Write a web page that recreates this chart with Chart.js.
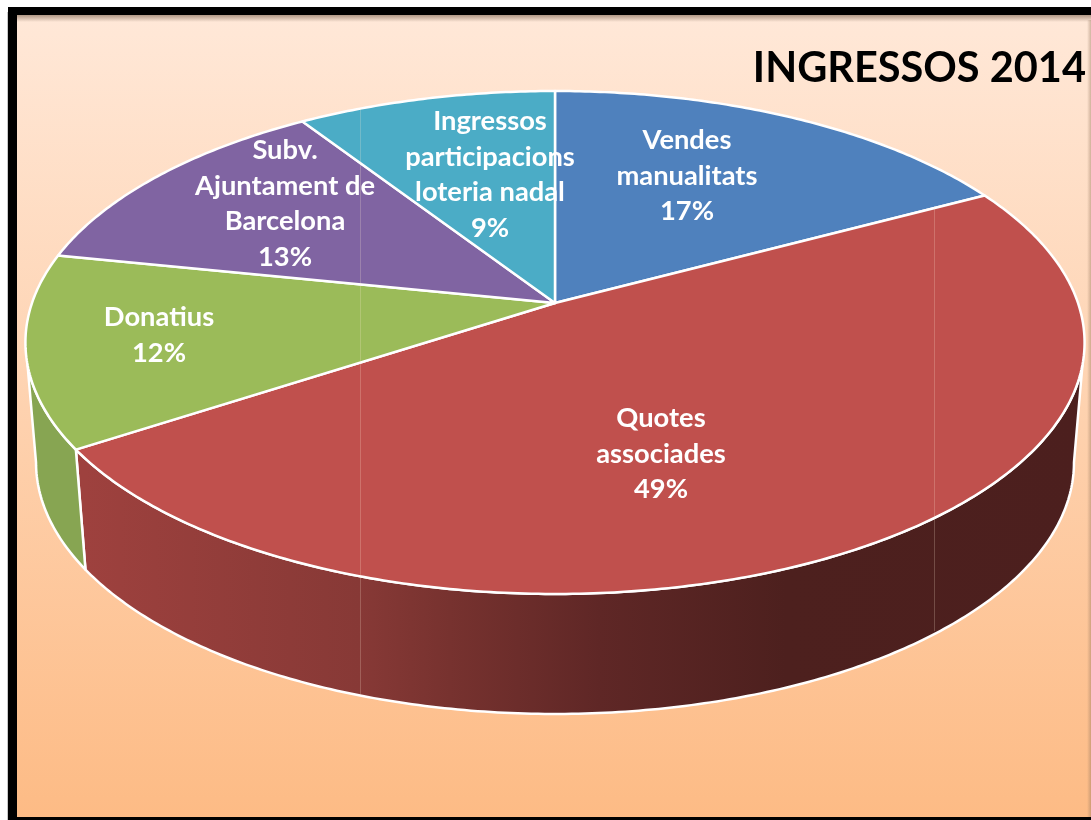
<!DOCTYPE html>
<html>
<head>
<meta charset="utf-8">
<title>Ingressos 2014</title>
<script src="https://cdn.jsdelivr.net/npm/chart.js@4/dist/chart.umd.js"></script>
<style>
  html, body { margin: 0; padding: 0; background: #fff; }
  canvas { display: block; }
</style>
</head>
<body>
<canvas id="pie" width="1091" height="820"></canvas>
<script>
// --- Data ---
const chartTitle = 'INGRESSOS 2014';
const categories = [
  ['Vendes', 'manualitats'],
  ['Quotes', 'associades'],
  ['Donatius'],
  ['Subv.', 'Ajuntament de', 'Barcelona'],
  ['Ingressos', 'participacions', 'loteria nadal']
];
const values = [17.2, 48.6, 12.4, 12.6, 9.2];

// --- Styles ---
const faceColors = ['#4f81bd', '#c0504d', '#9bbb59', '#8064a2', '#4bacc6'];
const labelCenters = [[687, 140.5], [661, 418.5], [159, 317.5], [285, 150.5], [490, 121.5]];
const LINE_H = 35.5;

// --- Perspective of the pie top, fitted on the picture ---
const view = { cx: 555, cy: 303, a: 197.7, c: -0.157, r: 523, depth: 120, shrink: 0.98 };
// where the wall leaves the top rim and where it reaches the lower rim (radians below horizontal)
const WALL_TOP = 0.078 * Math.PI, WALL_LOW = 0.05 * Math.PI;

function project(angle) {
  const u = Math.cos(angle), v = Math.sin(angle);
  const d = 1 + view.c * v;
  return { x: view.cx + view.r * u / d, y: (view.cy + view.a * v) / d };
}

function projectLow(angle) {
  const p = project(angle);
  return { x: view.cx + (p.x - view.cx) * view.shrink, y: p.y + view.depth };
}

function tracePts(ctx, from, to, fn) {
  const steps = Math.max(2, Math.ceil(Math.abs(to - from) * 90));
  for (let i = 0; i <= steps; i++) {
    const p = fn(from + (to - from) * i / steps);
    ctx.lineTo(p.x, p.y);
  }
}

function wallGradient(ctx, index) {
  if (index === 2) return '#87a552';
  const g = ctx.createLinearGradient(85, 0, 1085, 0);
  g.addColorStop(0, '#9e413e');
  g.addColorStop(0.275, '#873936');
  g.addColorStop(0.365, '#77322f');
  g.addColorStop(0.515, '#5f2726');
  g.addColorStop(0.7, '#4d201e');
  g.addColorStop(1, '#4c1f1e');
  return g;
}

// --- Drawing plugin: takes the library's arc angles and draws them in perspective ---
const pie3d = {
  id: 'pie3d',
  beforeDraw(chart) {
    const { ctx, width, height } = chart;
    const bg = ctx.createLinearGradient(0, 15, 0, 817);
    bg.addColorStop(0, '#ffe8d8');
    bg.addColorStop(1, '#fdbb85');
    ctx.save();
    ctx.fillStyle = '#fff';
    ctx.fillRect(0, 0, width, height);
    ctx.fillStyle = bg;
    ctx.fillRect(17, 15, width - 17, height - 15);
    // soft inner shadow under the frame
    const sh = ctx.createLinearGradient(0, 15, 0, 22);
    sh.addColorStop(0, 'rgba(110,85,65,0.55)');
    sh.addColorStop(1, 'rgba(110,85,65,0)');
    ctx.fillStyle = sh;
    ctx.fillRect(17, 15, width - 17, 7);
    const sr = ctx.createLinearGradient(1087, 0, 1091, 0);
    sr.addColorStop(0, 'rgba(150,120,95,0)');
    sr.addColorStop(1, 'rgba(150,120,95,0.45)');
    ctx.fillStyle = sr;
    ctx.fillRect(1087, 20, 4, height - 20);
    // frame
    ctx.fillStyle = '#c8c8c8';
    ctx.fillRect(7, 12, 1, height - 12);
    ctx.fillStyle = '#000';
    ctx.fillRect(8, 7, width - 8, 8);
    ctx.fillRect(8, 7, 9, height - 7);
    ctx.fillRect(8, 817, width - 8, 3);
    ctx.restore();
  },
  beforeDatasetDraw(chart, args) {
    const { ctx } = chart;
    const arcs = args.meta.data;
    ctx.save();
    ctx.lineJoin = 'round';
    ctx.strokeStyle = '#fff';
    ctx.lineWidth = 2.5;

    // side wall, only the slices that face the viewer
    arcs.forEach((arc, i) => {
      let s = arc.startAngle, e = arc.endAngle;
      if (s > Math.PI * 1.5) { s -= Math.PI * 2; e -= Math.PI * 2; }
      const topFrom = Math.max(s, WALL_TOP), topTo = Math.min(e, Math.PI - WALL_TOP);
      const lowFrom = Math.max(s, WALL_LOW), lowTo = Math.min(e, Math.PI - WALL_LOW);
      if (topTo <= topFrom) return;
      ctx.beginPath();
      tracePts(ctx, topFrom, topTo, project);
      tracePts(ctx, lowTo, lowFrom, projectLow);
      ctx.closePath();
      ctx.fillStyle = wallGradient(ctx, i);
      ctx.fill();
      ctx.stroke();
    });

    // top faces
    arcs.forEach((arc, i) => {
      ctx.beginPath();
      ctx.moveTo(view.cx, view.cy);
      tracePts(ctx, arc.startAngle, arc.endAngle, project);
      ctx.closePath();
      ctx.fillStyle = faceColors[i];
      ctx.fill();
      ctx.stroke();
    });
    ctx.restore();
    return false;
  },
  afterDatasetsDraw(chart) {
    const { ctx } = chart;
    const total = values.reduce((a, b) => a + b, 0);
    ctx.save();
    // faint scan seams of the picture
    ctx.strokeStyle = 'rgba(255,235,215,0.22)';
    ctx.lineWidth = 1;
    ctx.beginPath();
    ctx.moveTo(360.5, 109); ctx.lineTo(360.5, 694);
    ctx.moveTo(934.5, 206); ctx.lineTo(934.5, 631);
    ctx.stroke();
    // data labels
    ctx.fillStyle = '#fff';
    ctx.font = 'bold 27.3px Lato';
    ctx.textAlign = 'center';
    ctx.textBaseline = 'middle';
    categories.forEach((lines, i) => {
      const [x, y] = labelCenters[i];
      const all = lines.concat(Math.round(values[i] / total * 100) + '%');
      all.forEach((t, k) => ctx.fillText(t, x, y + k * LINE_H));
    });
    ctx.restore();
  }
};

new Chart(document.getElementById('pie'), {
  type: 'pie',
  data: {
    labels: categories.map(l => l.join(' ')),
    datasets: [{ data: values, backgroundColor: faceColors, borderColor: '#fff' }]
  },
  options: {
    responsive: false,
    animation: false,
    layout: { padding: { right: 5 } },
    plugins: {
      legend: { display: false },
      tooltip: { enabled: false },
      title: {
        display: true,
        text: chartTitle,
        align: 'end',
        color: '#000',
        font: { family: 'Lato', size: 41.5, weight: 'bold' },
        padding: { top: 43.5, bottom: 0 }
      }
    }
  },
  plugins: [pie3d]
});
</script>
</body>
</html>
